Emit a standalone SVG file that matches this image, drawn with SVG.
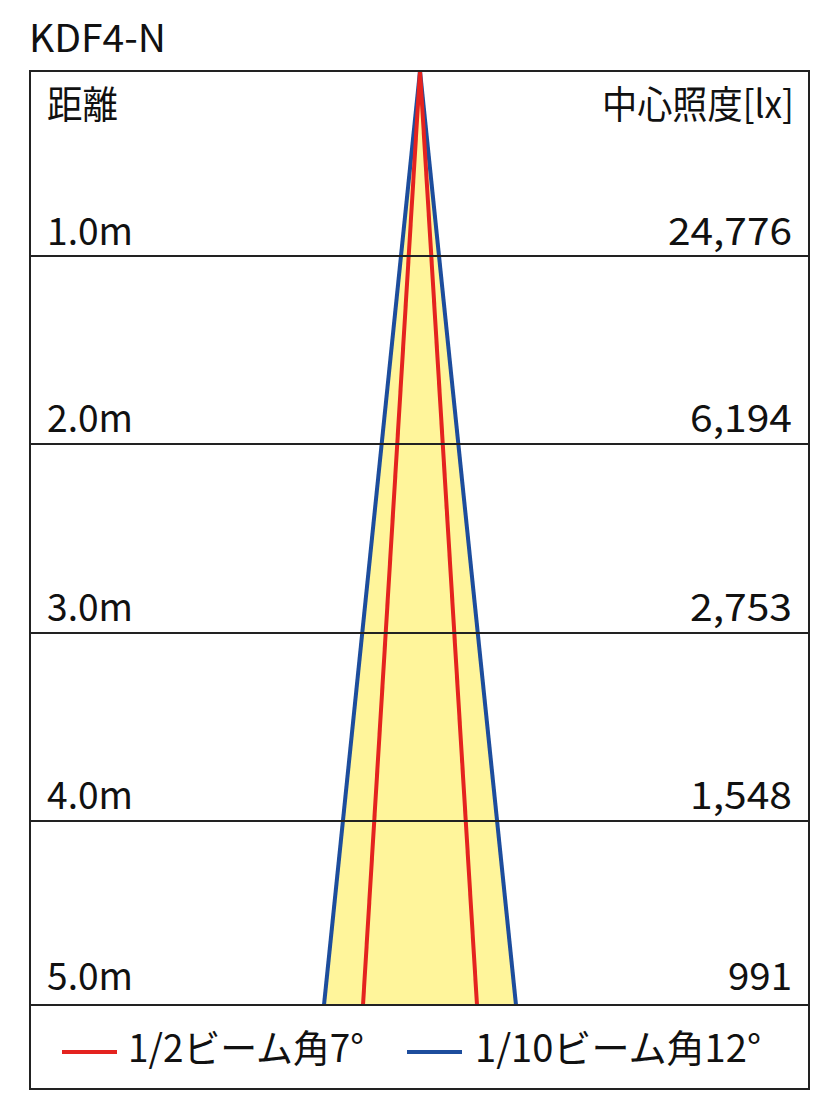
<svg xmlns="http://www.w3.org/2000/svg" width="837" height="1117" viewBox="0 0 837 1117">
<style>
text{font-family:"Noto Sans CJK JP","Noto Sans",sans-serif;fill:#111;}
.t{font-size:38px;}
.r{text-anchor:end;}
.grid{stroke:#222;stroke-width:2;fill:none;}
.blue{stroke:#1d4d9d;stroke-width:4;fill:none;}
.red{stroke:#e4231f;stroke-width:4;fill:none;}
</style>
<rect width="837" height="1117" fill="#fff"/>
<g id="title"><text class="t" x="29" y="52" textLength="137" lengthAdjust="spacingAndGlyphs">KDF4-N</text></g>
<g id="beam">
<polygon points="420,71 324,1005 516,1005" fill="#fff59b"/>
<line class="blue" x1="420" y1="71" x2="324" y2="1005"/>
<line class="blue" x1="420" y1="71" x2="516" y2="1005"/>
<line class="red" x1="420" y1="71" x2="363" y2="1005"/>
<line class="red" x1="420" y1="71" x2="477" y2="1005"/>
</g>
<g id="frame">
<rect class="grid" x="30" y="71" width="779" height="1018"/>
<line class="grid" x1="30" y1="256" x2="809" y2="256"/>
<line class="grid" x1="30" y1="444" x2="809" y2="444"/>
<line class="grid" x1="30" y1="633" x2="809" y2="633"/>
<line class="grid" x1="30" y1="821" x2="809" y2="821"/>
<line class="grid" x1="30" y1="1005" x2="809" y2="1005"/>
</g>
<g id="headers">
<text class="t" x="47" y="118" textLength="71" lengthAdjust="spacingAndGlyphs">距離</text>
<text class="t" x="602" y="118" textLength="192" lengthAdjust="spacingAndGlyphs">中心照度[lx]</text>
</g>
<g id="row1"><text class="t" x="47" y="245" textLength="86" lengthAdjust="spacingAndGlyphs">1.0m</text><text class="t r" x="792" y="245" textLength="124" lengthAdjust="spacingAndGlyphs">24,776</text></g>
<g id="row2"><text class="t" x="47" y="432" textLength="86" lengthAdjust="spacingAndGlyphs">2.0m</text><text class="t r" x="792" y="432" textLength="102" lengthAdjust="spacingAndGlyphs">6,194</text></g>
<g id="row3"><text class="t" x="47" y="621" textLength="86" lengthAdjust="spacingAndGlyphs">3.0m</text><text class="t r" x="792" y="621" textLength="102" lengthAdjust="spacingAndGlyphs">2,753</text></g>
<g id="row4"><text class="t" x="47" y="809" textLength="86" lengthAdjust="spacingAndGlyphs">4.0m</text><text class="t r" x="792" y="809" textLength="102" lengthAdjust="spacingAndGlyphs">1,548</text></g>
<g id="row5"><text class="t" x="47" y="990" textLength="86" lengthAdjust="spacingAndGlyphs">5.0m</text><text class="t r" x="792" y="990" textLength="64" lengthAdjust="spacingAndGlyphs">991</text></g>
<g id="legend">
<line class="red" x1="62" y1="1052" x2="117" y2="1052"/>
<text class="t" x="128" y="1062" textLength="236" lengthAdjust="spacingAndGlyphs">1/2ビーム角7°</text>
<line class="blue" x1="407" y1="1052" x2="462" y2="1052"/>
<text class="t" x="475" y="1062" textLength="286" lengthAdjust="spacingAndGlyphs">1/10ビーム角12°</text>
</g>
</svg>
